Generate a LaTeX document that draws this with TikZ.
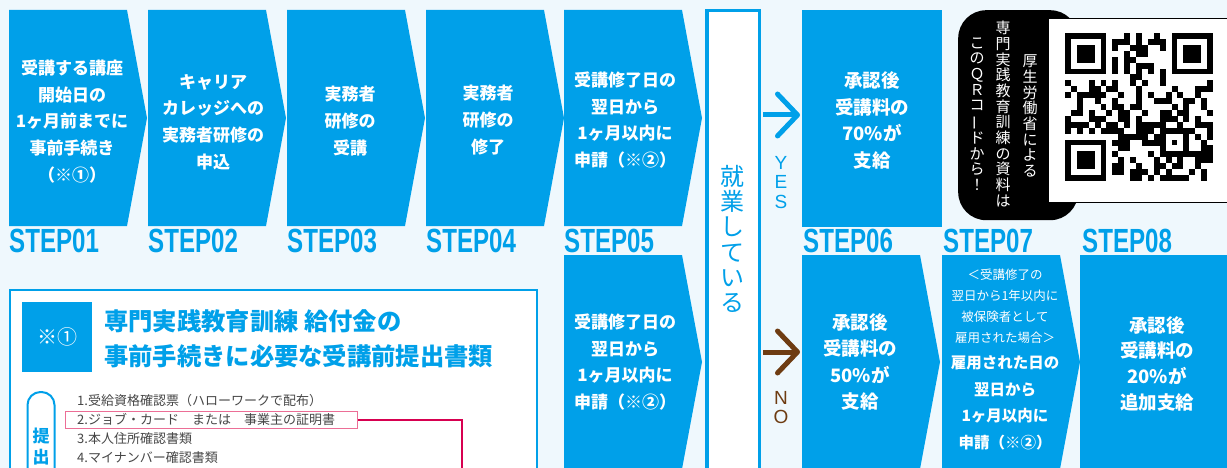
\documentclass[tikz,border=0pt]{standalone}
\usepackage{fontspec}
\setmainfont{Noto Sans CJK JP}
\newfontfamily\latinf{Liberation Sans}
\usetikzlibrary{arrows.meta}
\definecolor{sblue}{RGB}{0,160,233}
\definecolor{bgblue}{RGB}{239,248,253}
\definecolor{nobrown}{RGB}{110,60,18}
\definecolor{pinkl}{RGB}{215,0,80}
\definecolor{pinkbx}{RGB}{236,110,150}
\definecolor{listgray}{RGB}{70,70,70}
\newcommand\chev[4]{%
  \fill[sblue] (#2,#3) -- (#2+118,#3) -- (#2+138,{(#3+#4)/2}) -- (#2+118,#4) -- (#2,#4) -- cycle;
  \coordinate (#1) at (#2,{(#3+#4)/2});}
\newcommand\stepword[1]{\scalebox{0.72}[1]{\latinf\bfseries\fontsize{33.5}{33.5}\selectfont #1}}
\newcommand\finder[2]{%
  \fill (1065+#1*5.92,33+#2*5.92) rectangle +(41.44,41.44);
  \fill[white] (1065+#1*5.92+5.92,33+#2*5.92+5.92) rectangle +(29.6,29.6);
  \fill (1065+#1*5.92+11.84,33+#2*5.92+11.84) rectangle +(17.76,17.76);}
\tikzset{
  steptext/.style={text=white, font=\bfseries\fontsize{17}{26.7}\selectfont, align=center, inner sep=0},
  bigtext/.style={text=white, font=\bfseries\fontsize{18.5}{26.5}\selectfont, align=center, inner sep=0},
  steplabel/.style={anchor=base west, inner sep=0, text=sblue},
  qrtext/.style={text=white, font=\fontsize{15}{15.7}\selectfont, align=center, inner sep=0},
  yesarr/.style={draw=sblue, line width=5pt, -{Straight Barb[length=20pt,width=42pt,round]}, shorten <=2pt, shorten >=2pt},
  noarr/.style={draw=nobrown, line width=5pt, -{Straight Barb[length=20pt,width=42pt,round]}, shorten <=2pt, shorten >=2pt},
  vlatin/.style={font=\latinf\fontsize{19}{19.5}\selectfont, align=center, inner sep=0}
}
\begin{document}
\begin{tikzpicture}[x=1pt,y=-1pt]
\useasboundingbox (0,0) rectangle (1227,468);
\fill[bgblue] (0,0) rectangle (1227,468);
\begin{scope}
\clip (0,0) rectangle (1227,468);
% upper row chevrons
\chev{c1}{9}{10}{226}
\chev{c2}{148}{10}{226}
\chev{c3}{287}{10}{226}
\chev{c4}{426}{10}{226}
\chev{c5}{564}{10}{226}
\node[fill=sblue, minimum width=140, minimum height=217, inner sep=0, anchor=north west] (s6u) at (802,10) {};
% lower row
\chev{c5l}{564}{255}{469}
\chev{c6l}{802}{255}{469}
\chev{c7l}{942}{255}{469}
\node[fill=sblue, minimum width=160, minimum height=225, inner sep=0, anchor=north west] (s8l) at (1080,255) {};
% step texts
\node[steptext] (t1) at (72,121.5) {受講する講座\\開始日の\\1ヶ月前までに\\事前手続き\\（※①）};
\node[steptext] (t2) at (213,122) {キャリア\\カレッジへの\\実務者研修の\\申込};
\node[steptext] (t3) at (350,121) {実務者\\研修の\\受講};
\node[steptext] (t4) at (488,120) {実務者\\研修の\\修了};
\node[steptext] (t5) at (625,120) {受講修了日の\\翌日から\\1ヶ月以内に\\申請（※②）};
\node[bigtext] (t6u) at (872,120.5) {承認後\\受講料の\\70\%が\\支給};
\node[steptext] (t5l) at (625,362) {受講修了日の\\翌日から\\1ヶ月以内に\\申請（※②）};
\node[bigtext] (t6l) at (860,362) {承認後\\受講料の\\50\%が\\支給};
\node[text=white, font=\fontsize{12.5}{21}\selectfont, align=center, inner sep=0] (t7s) at (1005,306.5) {＜受講修了の\\翌日から1年以内に\\被保険者として\\雇用された場合＞};
\node[text=white, font=\bfseries\fontsize{15.5}{26.7}\selectfont, align=center, inner sep=0] (t7l) at (1005,403) {雇用された日の\\翌日から\\1ヶ月以内に\\申請（※②）};
\node[bigtext, font=\bfseries\fontsize{18.5}{25.7}\selectfont] (t8l) at (1157,363.5) {承認後\\受講料の\\20\%が\\追加支給};
% step labels
\node[steplabel] (l1) at (9,252.5) {\stepword{STEP01}};
\node[steplabel] (l2) at (148,252.5) {\stepword{STEP02}};
\node[steplabel] (l3) at (287,252.5) {\stepword{STEP03}};
\node[steplabel] (l4) at (426,252.5) {\stepword{STEP04}};
\node[steplabel] (l5) at (564,252.5) {\stepword{STEP05}};
\node[steplabel] (l6) at (803,252.5) {\stepword{STEP06}};
\node[steplabel] (l7) at (943,252.5) {\stepword{STEP07}};
\node[steplabel] (l8) at (1082,252.5) {\stepword{STEP08}};
% working box
\node[draw=sblue, line width=3.5pt, fill=white, minimum width=52.25, minimum height=480, inner sep=0, anchor=north] (work) at (733.25,8.75) {};
\node[text=sblue, font=\fontsize{24}{25.3}\selectfont, align=center, inner sep=0] (worktext) at (732,239) {就\\業\\し\\て\\い\\る};
% yes / no
\coordinate (yesy) at (0,115);
\coordinate (noy) at (0,352);
\draw[yesarr] (work.east |- yesy) -- (s6u.west |- yesy);
\draw[noarr] (work.east |- noy) -- (c6l |- noy);
\node[vlatin, text=sblue] (yes) at (781,182.5) {Y\\E\\S};
\node[vlatin, text=nobrown] (no) at (781,407.5) {N\\O};
% QR area
\node[fill=black, rounded corners=28pt, minimum width=120, minimum height=210, inner sep=0, anchor=north west] (qrtab) at (958,10) {};
\node[draw=black, line width=1.5pt, fill=white, minimum width=190, minimum height=184, inner sep=0, anchor=north west] (qrbox) at (1047.75,17.75) {};
\node[qrtext] (q1) at (1030,116) {厚\\生\\労\\働\\省\\に\\よ\\る};
\node[qrtext] (q2) at (1003,114) {専\\門\\実\\践\\教\\育\\訓\\練\\の\\資\\料\\は};
\node[qrtext] (q3) at (977,114) {こ\\の\\Ｑ\\Ｒ\\コ\\\rotatebox[origin=c]{90}{ー}\\ド\\か\\ら\\！};
\finder{0}{0}
\finder{18}{0}
\finder{0}{18}
\fill (1065+16*5.92,33+16*5.92) rectangle +(29.6,29.6);
\fill[white] (1065+17*5.92,33+17*5.92) rectangle +(17.76,17.76);
\fill (1065+18*5.92,33+18*5.92) rectangle +(5.92,5.92);
\foreach \i in {0,...,24}{
  \foreach \j in {0,...,24}{
    \pgfmathtruncatemacro\res{(\i<8)*(\j<8)+(\i>16)*(\j<8)+(\i<8)*(\j>16)+(\i>15)*(\i<21)*(\j>15)*(\j<21)+(\i==6)+(\j==6)}
    \pgfmathtruncatemacro\tim{(\i==6)*(\j>7)*(\j<17)*(1-mod(\j,2))+(\j==6)*(\i>7)*(\i<17)*(1-mod(\i,2))}
    \pgfmathtruncatemacro\hv{mod(mod(\i*\i*13,97)+mod(\j*\j*7,89)+\i*\j*3+\i*5+\j*11,17)}
    \ifnum\res=0
      \ifnum\hv<8
        \fill (1065+\i*5.92,33+\j*5.92) rectangle +(5.95,5.95);
      \fi
    \fi
    \ifnum\tim>0
      \fill (1065+\i*5.92,33+\j*5.92) rectangle +(5.95,5.95);
    \fi
  }
}
% note box
\node[draw=sblue, line width=2pt, fill=white, minimum width=527, minimum height=200, anchor=north west, inner sep=0] (notebox) at (9,289) {};
\node[fill=sblue, minimum size=70, inner sep=0, text=white, font=\fontsize{20}{20}\selectfont] (mark1) at (57,337) {※①};
\node[anchor=west, text=sblue, font=\bfseries\fontsize{24.3}{35}\selectfont, align=left, inner sep=0] (title) at (104,338.5) {専門実践教育訓練~給付金の\\事前手続きに必要な受講前提出書類};
\node[draw=sblue, line width=2pt, fill=white, rounded corners=13pt, minimum width=27, minimum height=120, anchor=north, inner sep=0] (sublabel) at (41,391) {};
\node[text=sblue, font=\bfseries\fontsize{17}{20.5}\selectfont, align=center, inner sep=0, anchor=north] (subtext) at (41,428) {提\\出};
\node[anchor=west, align=left, text=listgray, font=\fontsize{13}{19}\selectfont, inner sep=0] (list) at (77,428.5) {1.受給資格確認票（ハローワークで配布）\\2.ジョブ・カード　または　事業主の証明書\\3.本人住所確認書類\\4.マイナンバー確認書類};
\node[draw=pinkbx, line width=1pt, minimum width=292, minimum height=17, inner sep=0] (pinkbox) at (211,419.5) {};
\coordinate (pinkend) at (462,480);
\draw[pinkl, line width=2pt] (pinkbox.east) -| (pinkend);
\end{scope}
\end{tikzpicture}
\end{document}
